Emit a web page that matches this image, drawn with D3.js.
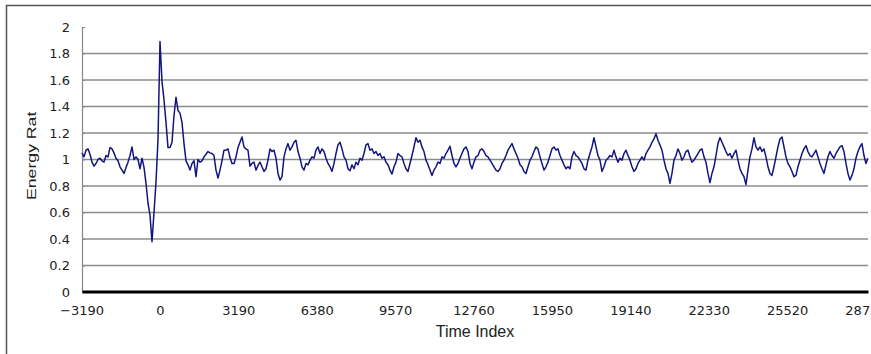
<!DOCTYPE html>
<html><head><meta charset="utf-8">
<script src="https://cdn.jsdelivr.net/npm/d3@7"></script>
<style>html,body{margin:0;padding:0;background:#fff;} svg{display:block;}</style>
</head><body>
<svg id="chart" width="871" height="354"></svg>
<script>
// ---- data ----
const xTickValues = [-3190, 0, 3190, 6380, 9570, 12760, 15950, 19140, 22330, 25520, 28710];
const yTickValues = [0, 0.2, 0.4, 0.6, 0.8, 1, 1.2, 1.4, 1.6, 1.8, 2];
const gridValues = [0.2, 0.4, 0.6, 0.8, 1, 1.2, 1.4, 1.6, 1.8];
const xTitle = "Time Index";
const yTitle = "Energy Rate";
const timeStart = -3190;
const timeStep = 81.37;
const energyRate = [
1.05,1.02,1.07,1.08,1.04,0.98,0.95,0.97,1.0,1.01,
0.99,0.98,1.03,1.02,1.09,1.08,1.05,1.01,0.99,0.945,
0.92,0.895,0.94,0.98,1.03,1.095,1.0,1.02,1.0,0.93,
1.01,0.94,0.82,0.67,0.58,0.38,0.6,0.83,1.15,1.89,
1.59,1.45,1.28,1.09,1.09,1.13,1.33,1.47,1.37,1.35,
1.28,1.12,0.99,0.96,0.92,0.97,0.99,0.87,1.0,0.98,
0.99,1.02,1.04,1.06,1.05,1.045,1.03,0.92,0.86,0.92,
0.99,1.07,1.07,1.08,1.015,0.97,0.97,1.02,1.09,1.13,
1.17,1.095,1.08,1.07,0.95,0.97,0.98,0.92,0.955,0.98,
0.945,0.91,0.93,0.995,1.08,1.06,1.07,1.01,0.895,0.845,
0.87,1.02,1.08,1.12,1.07,1.095,1.13,1.145,1.06,1.01,
0.945,0.92,0.97,0.96,0.995,1.02,1.01,1.07,1.095,1.045,
1.08,1.06,1.01,0.97,0.945,0.91,0.97,1.045,1.11,1.13,
1.08,1.02,0.995,0.93,0.915,0.96,0.93,0.98,0.96,1.01,
0.995,1.045,1.11,1.12,1.07,1.08,1.045,1.06,1.03,1.045,
1.01,1.02,0.98,0.96,0.92,0.89,0.945,0.98,1.045,1.03,
1.02,0.97,0.93,0.91,0.97,1.03,1.095,1.165,1.13,1.145,
1.095,1.06,0.995,0.96,0.92,0.88,0.92,0.945,0.98,0.97,
1.02,1.01,1.045,1.07,1.1,1.03,0.97,0.945,0.97,1.01,
1.045,1.08,1.095,1.06,0.97,0.93,0.98,1.02,1.03,1.07,
1.08,1.06,1.03,1.02,0.995,0.97,0.945,0.92,0.91,0.93,
0.97,0.995,1.03,1.07,1.095,1.12,1.08,1.045,1.01,0.96,
0.945,0.91,0.895,0.945,0.995,1.02,1.06,1.095,1.08,1.02,
0.97,0.92,0.945,0.98,1.03,1.08,1.095,1.07,1.08,1.03,
0.995,0.96,0.93,0.945,0.93,1.02,1.06,1.03,1.02,0.995,
0.97,0.93,0.92,0.995,1.045,1.095,1.165,1.095,1.03,0.995,
0.91,0.945,0.995,1.01,1.03,1.02,1.07,1.02,0.98,1.01,
0.995,1.045,1.07,1.03,0.995,0.945,0.91,0.93,0.97,0.995,
1.02,0.995,1.045,1.07,1.095,1.13,1.155,1.195,1.145,1.11,
1.07,0.995,0.93,0.895,0.82,0.895,0.995,1.03,1.08,1.045,
0.995,1.02,1.06,1.07,1.02,0.98,0.995,1.02,1.045,1.07,
1.08,1.02,0.98,0.895,0.825,0.895,0.945,1.03,1.12,1.165,
1.13,1.095,1.06,1.03,1.045,1.01,1.045,1.07,0.995,0.93,
0.895,0.87,0.81,0.92,1.02,1.08,1.165,1.095,1.07,1.095,
1.06,1.08,1.02,0.945,0.895,0.88,0.945,1.02,1.095,1.155,
1.17,1.095,1.02,0.97,0.945,0.91,0.87,0.88,0.945,0.995,
1.045,1.08,1.105,1.06,1.03,1.02,1.045,1.07,1.02,0.97,
0.93,0.895,0.96,1.02,1.06,1.03,1.01,1.045,1.07,1.095,
1.105,1.06,0.97,0.895,0.845,0.88,0.93,1.01,1.06,1.095,
1.12,1.03,0.97,1.01
];

// ---- chart ----
const svg = d3.select("#chart");
const W = 871, H = 354;
const x = d3.scaleLinear().domain([-3190, 28790]).range([82, 868]);
const y = d3.scaleLinear().domain([0, 2]).range([292, 27]);
const fontTick = "'DejaVu Sans', sans-serif";
const fontTitle = "'Liberation Sans', Arial, sans-serif";
const fmt = v => (v < 0 ? "\u2212" + Math.abs(v) : String(v));

// outer frame
svg.append("path")
  .attr("d", `M6.5,${H} V5.5 H${W}`)
  .attr("fill", "none").attr("stroke", "#555").attr("stroke-width", 1.5);

// gridlines
svg.append("g").selectAll("line").data(gridValues).join("line")
  .attr("x1", x(-3190)).attr("x2", x(28790))
  .attr("y1", d => y(d)).attr("y2", d => y(d))
  .attr("stroke", "#8c8c8c").attr("stroke-width", 1.5);

// y axis
const yAxis = d3.axisRight(y).tickValues(yTickValues).tickSize(3).tickFormat("");
svg.append("g").attr("transform", `translate(${x(-3190)},0)`).call(yAxis)
  .call(g => g.select(".domain").attr("stroke", "#888").attr("stroke-width", 1.2))
  .call(g => g.selectAll(".tick line").attr("stroke", "#888"));

svg.append("g").selectAll("text").data(yTickValues).join("text")
  .attr("x", 70).attr("y", d => y(d)).attr("dy", "0.36em")
  .attr("text-anchor", "end")
  .attr("font-family", fontTick).attr("font-size", 13).attr("fill", "#222")
  .text(d => fmt(d));

// data line
const line = d3.line()
  .x((d, i) => x(timeStart + i * timeStep))
  .y(d => y(d));
svg.append("path").datum(energyRate)
  .attr("d", line)
  .attr("fill", "none").attr("stroke", "#14147f").attr("stroke-width", 1.5)
  .attr("stroke-linejoin", "round");

// x axis
const xAxis = d3.axisBottom(x).tickValues(xTickValues).tickSize(0).tickFormat("");
svg.append("g").attr("transform", `translate(0,${y(0) - 0.5})`).call(xAxis)
  .call(g => g.select(".domain").attr("stroke", "#000").attr("stroke-width", 3));

svg.append("g").selectAll("text").data(xTickValues).join("text")
  .attr("x", d => x(d)).attr("y", 315)
  .attr("text-anchor", "middle")
  .attr("font-family", fontTick).attr("font-size", 13).attr("fill", "#222")
  .text(d => fmt(d));

// titles
svg.append("text")
  .attr("x", 475).attr("y", 337).attr("text-anchor", "middle")
  .attr("font-family", fontTitle).attr("font-size", 16).attr("fill", "#222")
  .text(xTitle);

svg.append("clipPath").attr("id", "yclip")
  .append("rect").attr("x", 0).attr("y", 112).attr("width", 60).attr("height", 120);
svg.append("g").attr("clip-path", "url(#yclip)")
  .append("text")
  .attr("transform", "translate(36,200) rotate(-90) scale(1.36,1)")
  .attr("font-family", fontTitle).attr("font-size", 13).attr("fill", "#222")
  .text(yTitle);
</script>
</body></html>
